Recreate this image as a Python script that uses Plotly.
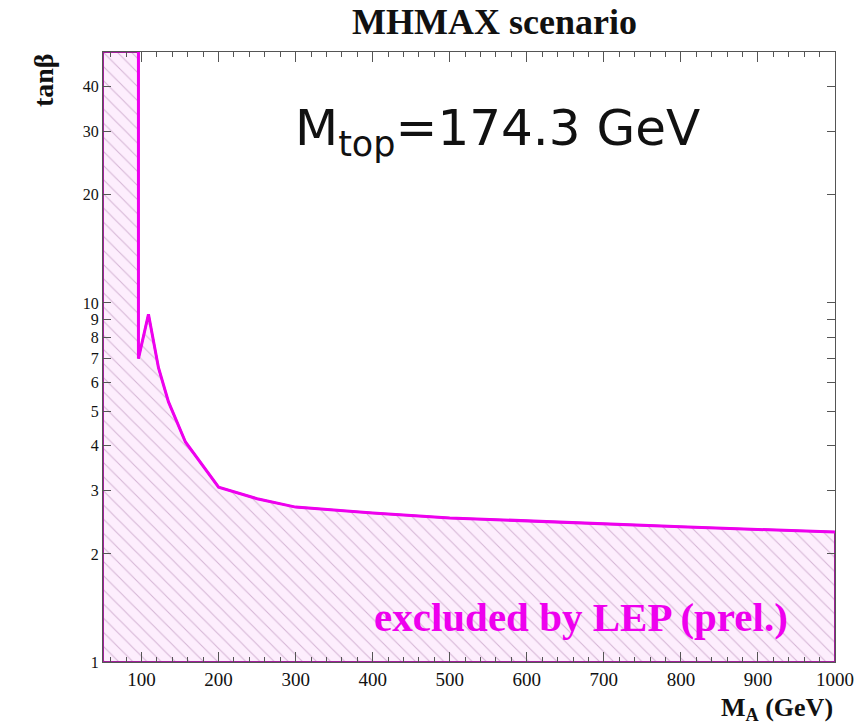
import plotly.graph_objects as go

# Exclusion contour in the (M_A, tan beta) plane
ma_vals = [96, 96, 109, 122, 135, 157, 200, 250, 300, 400, 500, 600, 700, 800, 900, 1000]
tanb_vals = [50, 7.0, 9.3, 6.6, 5.3, 4.1, 3.07, 2.85, 2.70, 2.60, 2.52, 2.47, 2.42, 2.38, 2.34, 2.30]

x_ticks = [100, 200, 300, 400, 500, 600, 700, 800, 900, 1000]
y_ticks = [1, 2, 3, 4, 5, 6, 7, 8, 9, 10, 20, 30, 40]

X_MIN, X_MAX = 50, 1000
Y_MIN, Y_MAX = 1, 50

MAGENTA = "#ee00ee"
SERIF = "Liberation Serif, Times New Roman, serif"

# closed polygon of the excluded region
poly_x = [X_MIN, X_MIN] + ma_vals + [X_MAX, X_MIN]
poly_y = [Y_MIN, Y_MAX] + tanb_vals + [Y_MIN, Y_MIN]

fig = go.Figure()
fig.add_trace(go.Scatter(
    x=poly_x, y=poly_y, mode="lines", fill="toself",
    line=dict(color="#a0209a", width=2),
    fillcolor="#fdeefd",
    fillpattern=dict(shape="\\", bgcolor="#fdeefd", fgcolor="#d4b4d4",
                     size=10, solidity=0.1, fillmode="replace"),
    hoverinfo="skip", showlegend=False,
))
fig.add_trace(go.Scatter(
    x=ma_vals, y=tanb_vals, mode="lines",
    line=dict(color=MAGENTA, width=3),
    showlegend=False,
))

fig.update_xaxes(
    range=[X_MIN, X_MAX], tickvals=x_ticks, ticktext=[str(v) for v in x_ticks],
    ticks="inside", ticklen=10, tickcolor="#555", mirror="ticks",
    showline=True, linecolor="#555", linewidth=1, showgrid=False, zeroline=False,
    minor=dict(dtick=20, tick0=0, ticks="inside", ticklen=5, tickcolor="#555", showgrid=False),
    tickfont=dict(family=SERIF, size=19, color="#111"),
)
fig.update_yaxes(
    type="log", range=[0, 1.69897], tickvals=y_ticks, ticktext=[str(v) for v in y_ticks],
    ticks="inside", ticklen=8, tickcolor="#555", mirror="ticks",
    showline=True, linecolor="#555", linewidth=1, showgrid=False, zeroline=False,
    tickfont=dict(family=SERIF, size=16, color="#111"),
)

fig.update_layout(
    width=865, height=728,
    margin=dict(l=103, r=30, t=52, b=66),
    paper_bgcolor="white", plot_bgcolor="white",
    annotations=[
        dict(text="<b>MHMAX scenario</b>", xref="paper", yref="paper",
             x=0.535, y=1.0, yshift=30, xanchor="center", yanchor="middle",
             showarrow=False, font=dict(family=SERIF, size=36, color="#111")),
        dict(text="<b>tanβ</b>", xref="paper", yref="paper",
             x=-0.082, y=0.954, xanchor="center", yanchor="middle",
             textangle=-90, showarrow=False,
             font=dict(family=SERIF, size=28, color="#111")),
        dict(text="<b>M<sub>A</sub> (GeV)</b>", xref="paper", yref="paper",
             x=1.0, y=0, yshift=-29, xanchor="right", yanchor="top",
             showarrow=False, font=dict(family=SERIF, size=26, color="#111")),
        dict(text="M<sub>top</sub>=174.3 GeV", xref="paper", yref="paper",
             x=0.26, y=0.87, xanchor="left", yanchor="middle", showarrow=False,
             font=dict(family="DejaVu Sans, sans-serif", size=50, color="#111")),
        dict(text="<b>excluded by LEP (prel.)</b>", xref="paper", yref="paper",
             x=0.653, y=0.074, xanchor="center", yanchor="middle", showarrow=False,
             font=dict(family=SERIF, size=41, color=MAGENTA)),
    ],
)

fig.write_html("out.html")
